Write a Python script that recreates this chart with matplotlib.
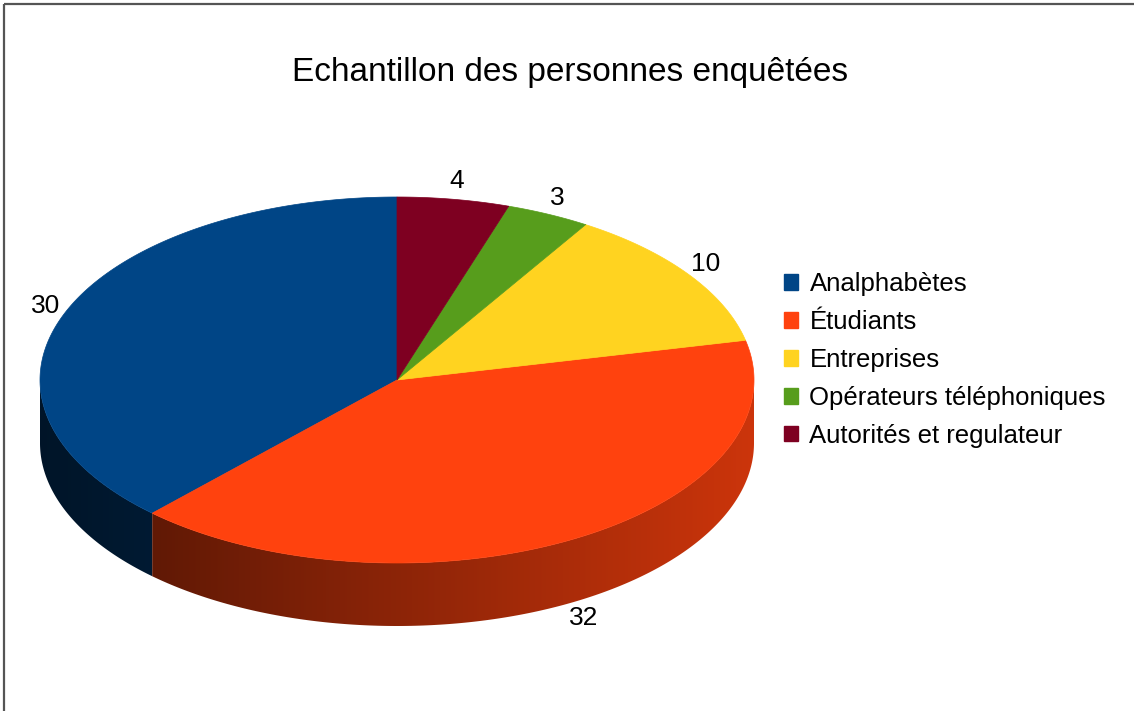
import matplotlib
matplotlib.use("Agg")
import matplotlib.pyplot as plt
import numpy as np
from matplotlib.patches import Polygon, Patch

plt.rcParams['font.family'] = ['Liberation Sans', 'DejaVu Sans']

title = "Echantillon des personnes enquêtées"
categories = ["Analphabètes", "Étudiants", "Entreprises",
              "Opérateurs téléphoniques", "Autorités et regulateur"]
values = [30, 32, 10, 3, 4]
colors = ["#004586", "#ff420e", "#ffd320", "#579d1c", "#7e0021"]

# pie geometry in pixel coords
cx, cy = 397, 380
rx, ry = 357, 183
depth = 63
start = 90.0

fig = plt.figure(figsize=(11.34, 7.11), dpi=100)
ax = fig.add_axes([0, 0, 1, 1])
ax.set_xlim(0, 1134)
ax.set_ylim(711, 0)
ax.axis("off")

total = float(sum(values))
spans = [v / total * 360.0 for v in values]
bounds = start + np.concatenate([[0], np.cumsum(spans)])


def pt(theta_deg, dy=0.0):
    t = np.radians(theta_deg)
    return cx + rx * np.cos(t), cy - ry * np.sin(t) + dy


def rgb(c):
    c = c.lstrip("#")
    return np.array([int(c[i:i + 2], 16) / 255.0 for i in (0, 2, 4)])


# side faces (front half only) with a left-to-right shading gradient
xg = np.linspace(cx - rx, cx + rx, 400)
shade = 0.3 + 0.5 * (xg - (cx - rx)) / (2 * rx)
for i in range(len(values)):
    a0, a1 = bounds[i], bounds[i + 1]
    for lo, hi in ((180, 360), (540, 720)):
        s0, s1 = max(a0, lo), min(a1, hi)
        if s1 <= s0:
            continue
        th = np.linspace(s0, s1, 200)
        xs, ys = pt(th)
        verts = list(zip(xs, ys)) + list(zip(xs[::-1], ys[::-1] + depth))
        poly = Polygon(verts, closed=True, facecolor="none", edgecolor="none")
        ax.add_patch(poly)
        grad = np.clip(shade[None, :, None] * rgb(colors[i])[None, None, :], 0, 1)
        im = ax.imshow(grad, extent=(cx - rx, cx + rx, cy + ry + depth + 2, cy - 2),
                       aspect="auto", interpolation="bilinear", zorder=1)
        im.set_clip_path(poly)

# top faces
for i in range(len(values)):
    th = np.linspace(bounds[i], bounds[i + 1], 200)
    xs, ys = pt(th)
    verts = [(cx, cy)] + list(zip(xs, ys))
    ax.add_patch(Polygon(verts, closed=True, facecolor=colors[i],
                         edgecolor=colors[i], linewidth=0.5, zorder=2))

# value labels
for i, v in enumerate(values):
    tm = np.radians((bounds[i] + bounds[i + 1]) / 2.0)
    lx = cx + rx * 1.06 * np.cos(tm)
    ly = cy - ry * 1.1 * np.sin(tm)
    if np.sin(tm) < 0:
        ly += depth
    ax.text(lx, ly, str(v), fontsize=19, ha="center", va="center", color="black", zorder=3)

ax.text(570, 73, title, fontsize=24, ha="center", va="center", color="black")

handles = [Patch(facecolor=c, edgecolor=c) for c in colors]
ax.legend(handles, categories, loc="center left",
          bbox_to_anchor=(774 / 1134, 1 - 360 / 711), frameon=False,
          fontsize=18.5, handlelength=0.55, handleheight=0.55,
          handletextpad=0.43, labelspacing=0.54, borderaxespad=0)

# frame lines (top and left)
ax.plot([4, 4], [4, 711], color="#555555", lw=1.6, solid_capstyle="butt")
ax.plot([4, 1134], [4, 4], color="#555555", lw=1.6, solid_capstyle="butt")

fig.savefig("out.png", dpi=100, facecolor="white")
